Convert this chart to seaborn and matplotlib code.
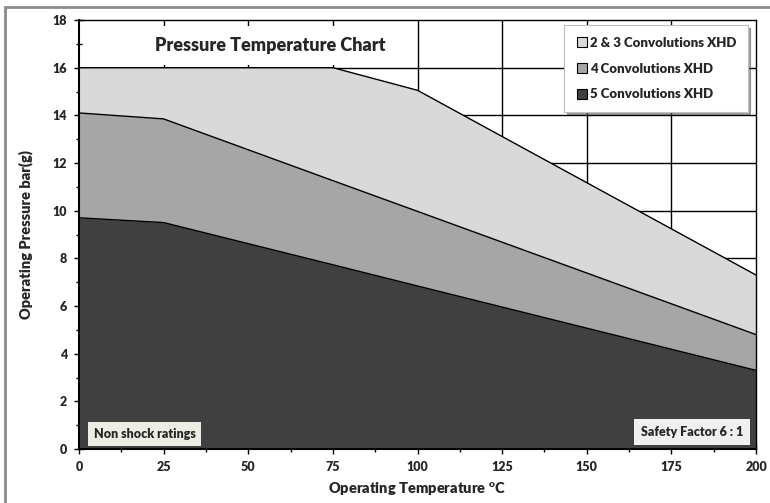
import matplotlib
matplotlib.use("Agg")
import matplotlib.pyplot as plt
import seaborn as sns
import pandas as pd
import numpy as np
from matplotlib.patches import Rectangle
from matplotlib.lines import Line2D
from matplotlib.ticker import MultipleLocator

temperature = [0, 25, 75, 100, 200]
conv_23 = [16.0, 16.0, 16.0, 15.05, 7.3]
conv_4 = [14.1, 13.85, 11.26, 9.97, 4.8]
conv_5 = [9.7, 9.5, 7.73, 6.84, 3.3]
series_names = ["2 & 3 Convolutions XHD", "4 Convolutions XHD", "5 Convolutions XHD"]
series_colors = ["#D9D9D9", "#A6A6A6", "#404040"]
x_ticks = [0, 25, 50, 75, 100, 125, 150, 175, 200]
y_ticks = [0, 2, 4, 6, 8, 10, 12, 14, 16, 18]

W = "heavy"
sns.set_style("ticks")
plt.rcParams['font.family'] = ['Lato', 'DejaVu Sans']
plt.rcParams['font.weight'] = W
plt.rcParams['mathtext.fontset'] = 'custom'
plt.rcParams['mathtext.rm'] = 'Lato:heavy'

df = pd.DataFrame({"temperature": temperature * 3,
                   "pressure": conv_23 + conv_4 + conv_5,
                   "series": [series_names[0]] * 5 + [series_names[1]] * 5 + [series_names[2]] * 5})

fig = plt.figure(figsize=(7.7, 5.03), dpi=100)
fig.patches.append(Rectangle((5 / 770, -0.1), 1.2, 1 - 7 / 503 + 0.1, transform=fig.transFigure,
                             fill=False, edgecolor="#8C8C8C", linewidth=2, zorder=0))
ax = fig.add_axes([79 / 770, 1 - 449 / 503, (756 - 79) / 770, (449 - 20) / 503])

# grid lines below the filled areas
for xv in x_ticks[1:-1]:
    ax.axvline(xv, color="black", linewidth=1.0, zorder=0)
for yv in y_ticks[1:-1]:
    ax.axhline(yv, color="black", linewidth=1.0, zorder=0)

for vals, col in zip([conv_23, conv_4, conv_5], series_colors):
    ax.fill_between(temperature, 0, vals, color=col, zorder=2, linewidth=0)
sns.lineplot(data=df, x="temperature", y="pressure", units="series", estimator=None,
             color="black", linewidth=1.0, ax=ax, zorder=3, legend=False)

ax.set_xlim(0, 200)
ax.set_ylim(0, 18)
ax.set_xticks(x_ticks)
ax.set_yticks(y_ticks)
ax.set_xticklabels([str(v) for v in x_ticks], fontweight=W, fontsize=9)
ax.set_yticklabels([str(v) for v in y_ticks], fontweight=W, fontsize=9)
ax.xaxis.set_minor_locator(MultipleLocator(12.5))
ax.yaxis.set_minor_locator(MultipleLocator(1))
ax.tick_params(axis="both", which="major", direction="inout", length=7, width=1, color="black",
               pad=5, bottom=True, left=True)
ax.tick_params(axis="both", which="minor", direction="inout", length=5, width=1, color="black",
               bottom=True, left=True)
for s in ["left", "bottom"]:
    ax.spines[s].set_color("black")
    ax.spines[s].set_linewidth(1.5)
for s in ["top", "right"]:
    ax.spines[s].set_visible(True)
    ax.spines[s].set_color("black")
    ax.spines[s].set_linewidth(1.0)

ax.set_xlabel("Operating Temperature $^{\\mathregular{o}}$C", fontsize=10.5, fontweight=W, labelpad=5)
ax.set_ylabel("Operating Pressure bar(g)", fontsize=10.5, fontweight=W, labelpad=14)

ax.text(0.283, 0.94, "Pressure Temperature Chart", transform=ax.transAxes, ha="center", va="center",
        fontsize=13, fontweight=W, zorder=6,
        bbox=dict(boxstyle="square,pad=0.6", facecolor="white", edgecolor="none"))

ax.text(0.022, 0.035, "Non shock ratings", transform=ax.transAxes, ha="left", va="center",
        fontsize=9, fontweight=W, zorder=6,
        bbox=dict(boxstyle="square,pad=0.45", facecolor="#EEEDE3", edgecolor="none"))
ax.text(0.981, 0.04, "Safety Factor 6 : 1", transform=ax.transAxes, ha="right", va="center",
        fontsize=9, fontweight=W, zorder=6,
        bbox=dict(boxstyle="square,pad=0.55", facecolor="#F0F0F0", edgecolor="none"))

handles = [Line2D([], [], marker="s", linestyle="none", markersize=7, markerfacecolor=c,
                  markeredgecolor="black", markeredgewidth=0.8) for c in series_colors]
leg = ax.legend(handles, series_names, loc="upper right", bbox_to_anchor=(0.9935, 0.9965),
                frameon=True, fancybox=False, shadow=True, handletextpad=0.1, handlelength=1.0,
                labelspacing=1.05, borderpad=0.85, borderaxespad=0.3, prop=dict(size=9.5, weight=W))
leg.get_frame().set_edgecolor("#BFBFBF")
leg.get_frame().set_linewidth(0.8)
leg.set_zorder(7)

fig.savefig("out.png", dpi=100)
